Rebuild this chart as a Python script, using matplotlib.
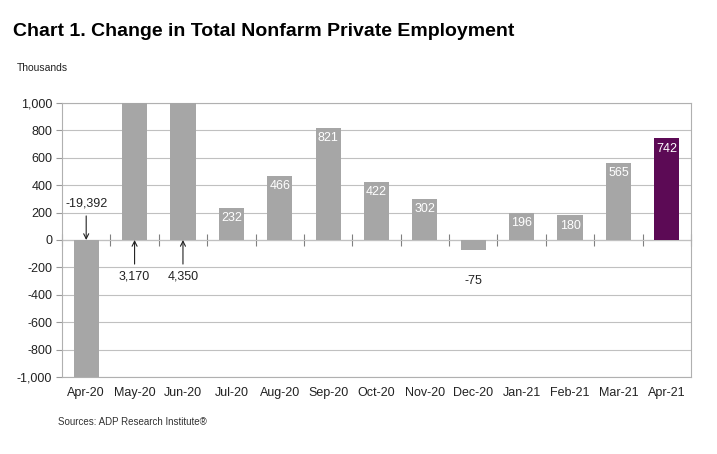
import numpy as np
import matplotlib.pyplot as plt

plt.rcParams['font.family'] = ['Liberation Sans', 'DejaVu Sans']

# data (thousands)
months = ["Apr-20", "May-20", "Jun-20", "Jul-20", "Aug-20", "Sep-20", "Oct-20",
          "Nov-20", "Dec-20", "Jan-21", "Feb-21", "Mar-21", "Apr-21"]
change = [-19392, 3170, 4350, 232, 466, 821, 422, 302, -75, 196, 180, 565, 742]
y_ticks = list(range(-1000, 1001, 200))

gray = "#a6a6a6"
purple = "#5c0a55"
colors = [gray] * (len(months) - 1) + [purple]

fig = plt.figure(figsize=(7.17, 4.54), dpi=100)
ax = fig.add_axes([62 / 717, 1 - 377 / 454, (691 - 62) / 717, (377 - 103) / 454])

x = np.arange(len(months))
ax.bar(x, change, width=0.52, color=colors, zorder=3)

ax.set_xlim(-0.5, len(months) - 0.5)
ax.set_ylim(-1000, 1000)
ax.set_yticks(y_ticks)
ax.set_yticklabels([f"{v:,}" for v in y_ticks], fontsize=9, color="#222222")
ax.set_xticks(x)
ax.set_xticklabels(months, fontsize=9, color="#222222")
ax.tick_params(axis="x", length=0, pad=7)
ax.tick_params(axis="y", length=4, width=0.8, color="#999999", pad=3)
ax.grid(axis="y", color="#c0c0c0", lw=0.8, zorder=0)
for s in ax.spines.values():
    s.set_color("#b0b0b0")
    s.set_linewidth(0.8)

# zero line with category boundary ticks
zero = ax.secondary_xaxis(0.5)
zero.set_xticks(np.arange(len(months) + 1) - 0.5)
zero.tick_params(axis="x", direction="inout", length=8, width=0.8,
                 color="#808080", labelbottom=False, labeltop=False)
zero.spines["bottom"].set_color("#808080")
zero.spines["bottom"].set_linewidth(0.9)
zero.spines["top"].set_color("#808080")

# value labels
for i, v in enumerate(change):
    if v > 1000 or v < -1000:
        up = v < 0
        ax.annotate(f"{v:,}", xy=(i, 0), xytext=(i, 270 if up else -270),
                    ha="center", va="center", fontsize=9, color="#222222",
                    arrowprops=dict(arrowstyle="->", color="#222222", lw=0.8,
                                    shrinkA=3, shrinkB=0))
    elif v < 0:
        ax.annotate(f"{v:,}", xy=(i, v), xytext=(0, -22), textcoords="offset points",
                    ha="center", va="center", fontsize=9, color="#222222")
    else:
        ax.annotate(f"{v:,}", xy=(i, v), xytext=(0, -3), textcoords="offset points",
                    ha="center", va="top", fontsize=9, color="white", zorder=4)

fig.text(13 / 717, 1 - 31 / 454, "Chart 1. Change in Total Nonfarm Private Employment",
         fontsize=14, fontweight="bold", va="center", ha="left")
fig.text(17 / 717, 1 - 68 / 454, "Thousands", fontsize=7.5, va="center", ha="left",
         color="#222222")
fig.text(58 / 717, 1 - 422 / 454, "Sources: ADP Research Institute\u00ae", fontsize=7,
         va="center", ha="left", color="#333333")

fig.savefig("out.png", dpi=100)
